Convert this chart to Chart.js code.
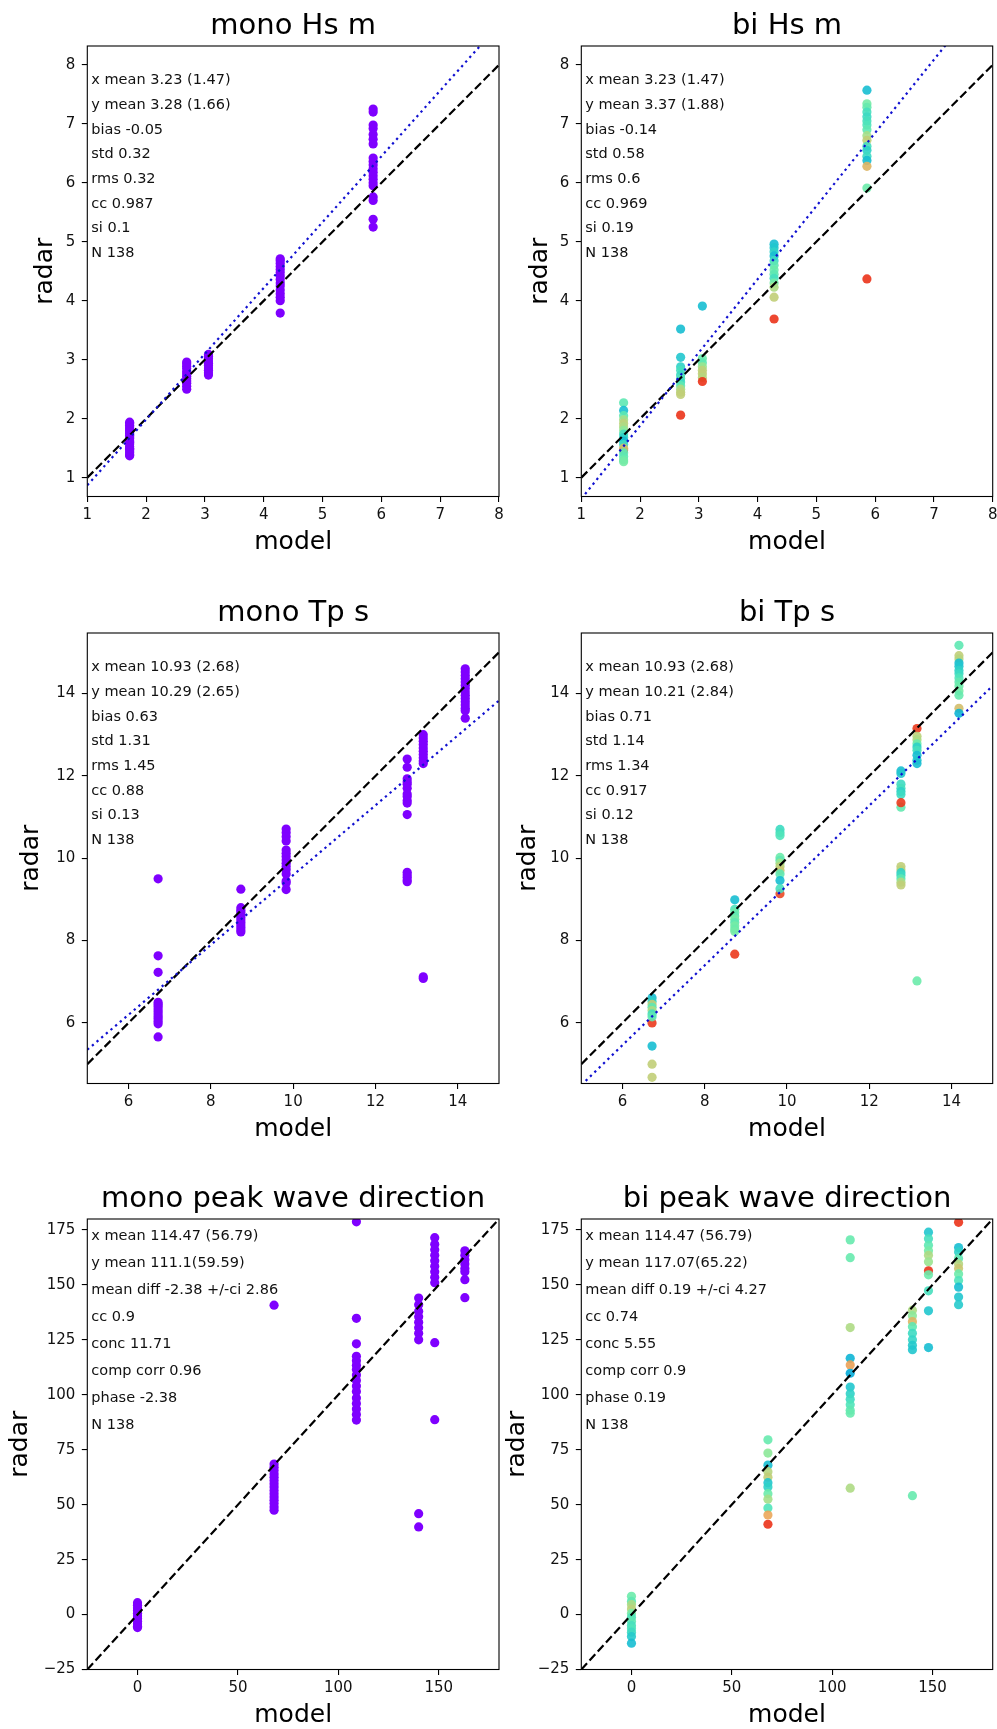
<!DOCTYPE html>
<html>
<head>
<meta charset="utf-8">
<script src="https://cdn.jsdelivr.net/npm/chart.js@4.4.0/dist/chart.umd.min.js"></script>
<style>
  html, body { margin: 0; padding: 0; background: #fff; overflow: hidden; }
  #page { position: relative; width: 997px; height: 1729px; }
  canvas { position: absolute; }
</style>
</head>
<body>
<div id="page">
  <canvas id="monoHs" width="506" height="557" style="left:0px;top:0px"></canvas>
  <canvas id="biHs" width="502" height="557" style="left:497px;top:0px"></canvas>
  <canvas id="monoTp" width="506" height="557" style="left:0px;top:587px"></canvas>
  <canvas id="biTp" width="502" height="557" style="left:497px;top:587px"></canvas>
  <canvas id="monoDir" width="506" height="557" style="left:0px;top:1173px"></canvas>
  <canvas id="biDir" width="502" height="557" style="left:497px;top:1173px"></canvas>
</div>
<script>
// ---- data ----
const hsTicks = [1, 2, 3, 4, 5, 6, 7, 8];
const tpTicks = [6, 8, 10, 12, 14];
const dirXTicks = [0, 50, 100, 150];
const dirYTicks = [-25, 0, 25, 50, 75, 100, 125, 150, 175];

const hsModel = [1.72, 2.69, 3.06, 4.28, 5.86];
const hsMonoRadar = [
    [1.37, 1.39, 1.42, 1.45, 1.48, 1.50, 1.53, 1.57, 1.60, 1.62, 1.66, 1.69, 1.72, 1.75, 1.78, 1.80, 1.83, 1.86, 1.89, 1.92, 1.94],
    [2.50, 2.55, 2.60, 2.64, 2.68, 2.72, 2.76, 2.80, 2.85, 2.89, 2.93, 2.96],
    [2.74, 2.78, 2.82, 2.86, 2.90, 2.94, 2.98, 3.02, 3.06, 3.09],
    [3.79, 4.00, 4.06, 4.12, 4.18, 4.25, 4.30, 4.36, 4.42, 4.48, 4.53, 4.58, 4.63, 4.68, 4.71],
    [7.25, 7.20, 6.98, 6.92, 6.82, 6.74, 6.66, 6.42, 6.36, 6.30, 6.24, 6.18, 6.12, 6.06, 6.00, 5.95, 5.76, 5.70, 5.38, 5.25]
];
const hsBiRadar = [
    [1.47, 2.27, 2.14, 2.05, 1.98, 1.92, 1.86, 1.80, 1.74, 1.68, 1.62, 1.56, 1.50, 1.42, 1.36, 1.30, 1.27],
    [3.52, 3.04, 2.88, 2.82, 2.74, 2.68, 2.62, 2.56, 2.50, 2.45, 2.41, 2.06],
    [3.91, 3.02, 2.95, 2.88, 2.82, 2.76, 2.70, 2.63],
    [4.96, 4.90, 4.83, 4.76, 4.68, 4.60, 4.52, 4.45, 4.38, 4.30, 4.23, 4.06, 3.69],
    [7.57, 7.34, 7.28, 7.20, 7.12, 7.05, 6.98, 6.90, 6.80, 6.72, 6.62, 6.55, 6.45, 6.38, 6.28, 5.91, 4.37]
];
const hsBiColour = [
    [0.92, 0.45, 0.30, 0.45, 0.60, 0.65, 0.62, 0.55, 0.40, 0.35, 0.30, 0.38, 0.70, 0.45, 0.45, 0.48, 0.50],
    [0.30, 0.32, 0.35, 0.40, 0.38, 0.42, 0.38, 0.45, 0.62, 0.65, 0.66, 0.93],
    [0.30, 0.48, 0.45, 0.58, 0.65, 0.66, 0.64, 0.93],
    [0.30, 0.32, 0.35, 0.30, 0.38, 0.45, 0.48, 0.45, 0.40, 0.50, 0.62, 0.66, 0.93],
    [0.30, 0.50, 0.47, 0.40, 0.38, 0.40, 0.42, 0.45, 0.60, 0.66, 0.40, 0.35, 0.38, 0.30, 0.72, 0.48, 0.93]
];

const tpModel = [6.72, 8.73, 9.83, 12.77, 13.16, 14.18];
const tpMonoRadar = [
    [9.50, 7.63, 7.23, 6.50, 6.45, 6.40, 6.34, 6.28, 6.22, 6.16, 6.10, 6.04, 5.98, 5.66],
    [9.25, 8.80, 8.74, 8.68, 8.62, 8.56, 8.50, 8.44, 8.38, 8.32, 8.26, 8.21],
    [10.71, 10.62, 10.52, 10.42, 10.20, 10.12, 10.04, 9.96, 9.88, 9.80, 9.72, 9.62, 9.45, 9.40, 9.24],
    [12.41, 12.21, 11.93, 11.86, 11.80, 11.70, 11.56, 11.50, 11.40, 11.34, 11.06, 9.66, 9.60, 9.54, 9.47, 9.43],
    [13.00, 12.92, 12.84, 12.76, 12.68, 12.60, 12.52, 12.44, 12.36, 12.30, 7.12, 7.08],
    [14.60, 14.52, 14.44, 14.36, 14.28, 14.20, 14.12, 14.04, 13.96, 13.88, 13.80, 13.72, 13.64, 13.58, 13.40]
];
const tpBiRadar = [
    [6.00, 6.61, 6.52, 6.45, 6.38, 6.30, 6.22, 6.15, 5.44, 5.00, 4.68],
    [8.99, 8.76, 8.68, 8.60, 8.52, 8.44, 8.36, 8.28, 8.22, 7.67],
    [9.14, 10.70, 10.62, 10.55, 10.02, 9.95, 9.88, 9.80, 9.70, 9.62, 9.46, 9.26],
    [12.12, 12.06, 11.80, 11.70, 11.62, 11.55, 11.24, 11.35, 9.80, 9.72, 9.65, 9.58, 9.50, 9.42, 9.35],
    [13.15, 12.96, 12.88, 12.78, 12.70, 12.62, 12.50, 12.38, 12.30, 7.02],
    [15.17, 14.92, 14.84, 14.74, 14.66, 14.56, 14.48, 14.38, 14.28, 14.18, 14.06, 13.96, 13.64, 13.52]
];
const tpBiColour = [
    [0.92, 0.30, 0.35, 0.66, 0.45, 0.62, 0.40, 0.45, 0.30, 0.66, 0.66],
    [0.30, 0.42, 0.48, 0.45, 0.50, 0.45, 0.50, 0.48, 0.50, 0.92],
    [0.90, 0.38, 0.40, 0.42, 0.48, 0.45, 0.58, 0.65, 0.68, 0.45, 0.30, 0.40],
    [0.30, 0.32, 0.38, 0.40, 0.35, 0.38, 0.46, 0.92, 0.66, 0.65, 0.35, 0.38, 0.45, 0.62, 0.66],
    [0.92, 0.65, 0.62, 0.48, 0.35, 0.40, 0.30, 0.32, 0.30, 0.48],
    [0.45, 0.66, 0.64, 0.30, 0.32, 0.35, 0.38, 0.42, 0.46, 0.48, 0.50, 0.47, 0.70, 0.28]
];

const dirModel = [0, 68, 109, 140, 148, 163];
const dirMonoRadar = [
    [5.4, 4.2, 3.0, 1.8, 0.6, -0.6, -1.8, -3.0, -4.2, -5.3, -5.9],
    [140.8, 68.5, 67, 65.5, 64, 62.5, 61, 59.5, 58, 56.5, 55, 53.5, 52, 50.5, 49, 47.5],
    [178.7, 134.8, 123.2, 117.5, 115.5, 113.5, 111.5, 109, 106.5, 104, 101.5, 98.5, 96, 93.5, 91, 88.5],
    [144, 141, 138, 135.5, 133, 130.5, 128, 125, 45.9, 39.9],
    [171.5, 168.5, 166, 163.5, 161, 158.5, 156, 153.5, 151, 123.7, 88.7],
    [165.5, 163.5, 161.5, 159.5, 157.5, 156, 152.4, 144.2]
];
const dirBiRadar = [
    [8.3, 6, 4.5, 2.5, 0.5, -1.2, -3, -5, -6.5, -8, -10, -13],
    [79.5, 73.5, 68, 65, 62.5, 60, 58, 55, 52.5, 48.5, 45.3, 41.1],
    [170.5, 162.4, 130.6, 116.6, 113.6, 109.8, 103.5, 100.5, 98, 95.5, 93, 91.6, 57.5],
    [138.5, 136, 133.3, 131, 128, 125, 122.5, 120.5, 54.1],
    [174, 171, 168, 165.5, 163.5, 160.5, 156.4, 154.6, 147.3, 138.2, 121.5],
    [178.5, 167, 165, 162, 159.5, 157.5, 155, 152, 149, 144.5, 141]
];
const dirBiColour = [
    [0.48, 0.45, 0.62, 0.65, 0.50, 0.42, 0.45, 0.40, 0.42, 0.38, 0.33, 0.30],
    [0.47, 0.55, 0.30, 0.64, 0.66, 0.32, 0.35, 0.48, 0.60, 0.42, 0.75, 0.93],
    [0.47, 0.47, 0.62, 0.28, 0.76, 0.26, 0.32, 0.35, 0.38, 0.42, 0.45, 0.47, 0.62],
    [0.62, 0.55, 0.72, 0.45, 0.38, 0.36, 0.33, 0.32, 0.47],
    [0.32, 0.40, 0.45, 0.50, 0.62, 0.58, 0.93, 0.48, 0.40, 0.32, 0.30],
    [0.93, 0.30, 0.35, 0.45, 0.64, 0.68, 0.48, 0.42, 0.30, 0.32, 0.33]
];

// regression lines (two end points each)
const hsMonoFit = [[1, 0.87], [8, 8.68]];
const hsBiFit = [[1, 0.64], [8, 9.33]];
const tpMonoFit = [[5, 5.35], [15, 13.83]];
const tpBiFit = [[5, 4.49], [15, 14.19]];

const hsMonoStats = ["x mean 3.23 (1.47)", "y mean 3.28 (1.66)", "bias -0.05", "std 0.32", "rms 0.32", "cc 0.987", "si 0.1", "N 138"];
const hsBiStats = ["x mean 3.23 (1.47)", "y mean 3.37 (1.88)", "bias -0.14", "std 0.58", "rms 0.6", "cc 0.969", "si 0.19", "N 138"];
const tpMonoStats = ["x mean 10.93 (2.68)", "y mean 10.29 (2.65)", "bias 0.63", "std 1.31", "rms 1.45", "cc 0.88", "si 0.13", "N 138"];
const tpBiStats = ["x mean 10.93 (2.68)", "y mean 10.21 (2.84)", "bias 0.71", "std 1.14", "rms 1.34", "cc 0.917", "si 0.12", "N 138"];
const dirMonoStats = ["x mean 114.47 (56.79)", "y mean 111.1(59.59)", "mean diff -2.38 +/-ci 2.86", "cc 0.9", "conc 11.71", "comp corr 0.96", "phase -2.38", "N 138"];
const dirBiStats = ["x mean 114.47 (56.79)", "y mean 117.07(65.22)", "mean diff 0.19 +/-ci 4.27", "cc 0.74", "conc 5.55", "comp corr 0.9", "phase 0.19", "N 138"];

// ---- drawing ----
Chart.defaults.font.family = "'DejaVu Sans', sans-serif";
Chart.defaults.color = "#000";

// matplotlib "rainbow" colour map
function rainbow(c, a) {
    const r = Math.min(1, Math.abs(2 * c - 0.5));
    const g = Math.sin(Math.PI * c);
    const b = Math.cos(Math.PI * c / 2);
    return "rgba(" + Math.round(r * 235) + "," + Math.round(g * 235) + "," + Math.round(b * 235) + "," + a + ")";
}

const fmtTick = v => String(v).replace("-", "\u2212");

const statsText = {
    id: "statsText",
    afterDraw(chart, args, opts) {
        const { ctx, chartArea } = chart;
        ctx.save();
        ctx.font = "14.5px 'DejaVu Sans'";
        ctx.fillStyle = "#111";
        ctx.textBaseline = "middle";
        opts.lines.forEach((t, i) => {
            ctx.fillText(t, chartArea.left + 4, chartArea.top + opts.first + i * opts.step);
        });
        ctx.strokeStyle = "#000";
        ctx.lineWidth = 1.1;
        ctx.strokeRect(chartArea.left, chartArea.top, chartArea.right - chartArea.left, chartArea.bottom - chartArea.top);
        ctx.restore();
    }
};

function makePanel(id, cfg) {
    const ctx = document.getElementById(id).getContext("2d");
    const points = [];
    const colours = [];
    cfg.model.forEach((m, i) => {
        cfg.radar[i].forEach((r, j) => {
            points.push({ x: m, y: r });
            colours.push(cfg.colour ? rainbow(cfg.colour[i][j], 0.9) : "#7f00ff");
        });
    });

    const datasets = [
        {
            data: [{ x: cfg.x[0], y: cfg.x[0] }, { x: cfg.x[1], y: cfg.x[1] }],
            showLine: true, borderColor: "#000", borderWidth: 2.2, borderDash: [8.5, 3.7],
            pointRadius: 0, order: 1
        },
        {
            data: points, pointBackgroundColor: colours, pointBorderWidth: 0,
            pointRadius: 4.6, order: 2
        }
    ];
    if (cfg.fit) {
        datasets.push({
            data: cfg.fit.map(p => ({ x: p[0], y: p[1] })),
            showLine: true, borderColor: "#1010d0", borderWidth: 2.2, borderDash: [2.3, 3.8],
            pointRadius: 0, order: 0
        });
    }

    const axisGrid = { drawOnChartArea: false, drawTicks: true, tickLength: 5.5, color: "#000", lineWidth: 1.1 };

    return new Chart(ctx, {
        type: "scatter",
        data: { datasets: datasets },
        plugins: [statsText],
        options: {
            responsive: false,
            animation: false,
            devicePixelRatio: 1,
            layout: { padding: { left: 0, top: 0, right: cfg.padRight, bottom: 0 } },
            scales: {
                x: {
                    type: "linear", min: cfg.x[0], max: cfg.x[1],
                    afterBuildTicks: s => { s.ticks = cfg.xTicks.map(v => ({ value: v })); },
                    afterFit: s => { s.height = 60.5; s.paddingLeft = 0; s.paddingRight = 0; },
                    grid: axisGrid,
                    border: { display: false },
                    ticks: { font: { size: 15 }, color: "#111", padding: 4, maxRotation: 0, autoSkip: false, callback: fmtTick },
                    title: { display: true, text: "model", font: { size: 25 }, color: "#000", padding: { top: 0, bottom: 0 } }
                },
                y: {
                    type: "linear", min: cfg.y[0], max: cfg.y[1],
                    afterBuildTicks: s => { s.ticks = cfg.yTicks.map(v => ({ value: v })); },
                    afterFit: s => { s.width = cfg.caLeft; s.paddingTop = 0; s.paddingBottom = 0; },
                    grid: axisGrid,
                    border: { display: false },
                    ticks: { font: { size: 15 }, color: "#111", padding: 6.5, autoSkip: false, callback: fmtTick },
                    title: { display: true, text: "radar", font: { size: 25 }, color: "#000", padding: { top: cfg.yTitlePad, bottom: 0 } }
                }
            },
            plugins: {
                legend: { display: false },
                tooltip: { enabled: false },
                title: {
                    display: true, text: cfg.title, fullSize: false, color: "#000",
                    font: { size: 29, weight: "normal" }, padding: { top: 8.6, bottom: 2.6 }
                },
                statsText: { lines: cfg.stats, first: cfg.statFirst, step: cfg.statStep }
            }
        }
    });
}

const colLeft = { caLeft: 87.3, padRight: 7 };
const colRight = { caLeft: 84.3, padRight: 6.3 };

makePanel("monoHs", Object.assign({
    title: "mono Hs m", x: [1, 8], y: [0.68, 8.32], xTicks: hsTicks, yTicks: hsTicks,
    model: hsModel, radar: hsMonoRadar, fit: hsMonoFit, stats: hsMonoStats,
    statFirst: 34.4, statStep: 24.7, yTitlePad: 30
}, colLeft));
makePanel("biHs", Object.assign({
    title: "bi Hs m", x: [1, 8], y: [0.68, 8.32], xTicks: hsTicks, yTicks: hsTicks,
    model: hsModel, radar: hsBiRadar, colour: hsBiColour, fit: hsBiFit, stats: hsBiStats,
    statFirst: 34.4, statStep: 24.7, yTitlePad: 28.3
}, colRight));
makePanel("monoTp", Object.assign({
    title: "mono Tp s", x: [5, 15], y: [4.53, 15.47], xTicks: tpTicks, yTicks: tpTicks,
    model: tpModel, radar: tpMonoRadar, fit: tpMonoFit, stats: tpMonoStats,
    statFirst: 34.5, statStep: 24.7, yTitlePad: 16.7
}, colLeft));
makePanel("biTp", Object.assign({
    title: "bi Tp s", x: [5, 15], y: [4.53, 15.47], xTicks: tpTicks, yTicks: tpTicks,
    model: tpModel, radar: tpBiRadar, colour: tpBiColour, fit: tpBiFit, stats: tpBiStats,
    statFirst: 34.5, statStep: 24.7, yTitlePad: 16.7
}, colRight));
makePanel("monoDir", Object.assign({
    title: "mono peak wave direction", x: [-25, 180], y: [-25, 180], xTicks: dirXTicks, yTicks: dirYTicks,
    model: dirModel, radar: dirMonoRadar, stats: dirMonoStats,
    statFirst: 16.9, statStep: 27, yTitlePad: 5
}, colLeft));
makePanel("biDir", Object.assign({
    title: "bi peak wave direction", x: [-25, 180], y: [-25, 180], xTicks: dirXTicks, yTicks: dirYTicks,
    model: dirModel, radar: dirBiRadar, colour: dirBiColour, stats: dirBiStats,
    statFirst: 16.9, statStep: 27, yTitlePad: 5
}, colRight));
</script>
</body>
</html>
